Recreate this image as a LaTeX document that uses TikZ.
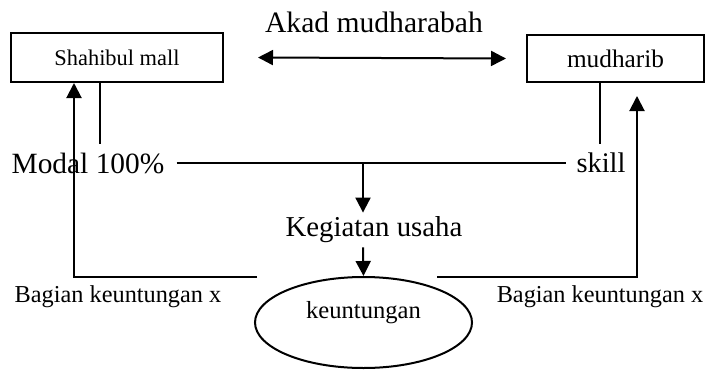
\documentclass[tikz,border=0pt]{standalone}
\usepackage{fontspec}
\setmainfont{Liberation Serif}
\usetikzlibrary{arrows.meta,shapes.geometric}
\newcommand{\fs}[1]{\fontsize{#1}{#1}\selectfont}
\begin{document}
\begin{tikzpicture}[x=1pt, y=-1pt, line width=2pt, line join=miter,
  >={Triangle[length=15pt,width=15pt]},
  party/.style={draw, inner sep=0pt}]
 \useasboundingbox (0,0) rectangle (709,370);
 % the two parties and the contract between them
 \node[party, minimum width=212pt, minimum height=49pt, font=\fs{22.4}] (shahib) at (117,57.5) {Shahibul mall};
 \node[party, minimum width=177pt, minimum height=47pt, font=\fs{25.3}] (mudh) at (615.5,58.5) {mudharib};
 \node[font=\fs{29.6}] (akad) at (374,22) {Akad mudharabah};
 \draw[<->] ([xshift=34pt]shahib.east) -- ([xshift=-20pt]mudh.west);
 % capital and skill
 \coordinate (m1) at (100,144);
 \coordinate (m2) at (600,144);
 \coordinate (split) at (363,164);
 \node[font=\fs{29.4}] (modal) at (88,163) {Modal 100\%};
 \node[font=\fs{28.4}] (skill) at (601,163) {skill};
 \draw (shahib.south -| m1) -- (m1);
 \draw (mudh.south -| m2) -- (m2);
 \draw ([xshift=8pt]modal.east) -- ([xshift=-6pt]skill.west);
 % business and profit
 \node[font=\fs{28.8}] (usaha) at (374,230) {Kegiatan usaha};
 \node[draw, ellipse, minimum width=217pt, minimum height=91pt] (untung) at (363.5,322.5) {};
 \node[font=\fs{24.6}] (untungtxt) at ([yshift=10pt]untung.center) {keuntungan};
 \draw[->] (split) -- (split |- usaha.north);
 \draw[->] (usaha.south -| split) -- (untung.north);
 % profit shares going back
 \coordinate (bl) at (257,277);
 \coordinate (br) at (437,277);
 \draw[->] (bl) -| ([xshift=-43pt]shahib.south);
 \draw[->] (br) -| ([xshift=21.5pt,yshift=-13pt]mudh.south);
 \node[font=\fs{24.3}] (bagian1) at (118,297) {Bagian keuntungan x};
 \node[font=\fs{24.3}] (bagian2) at (600,297) {Bagian keuntungan x};
\end{tikzpicture}
\end{document}
